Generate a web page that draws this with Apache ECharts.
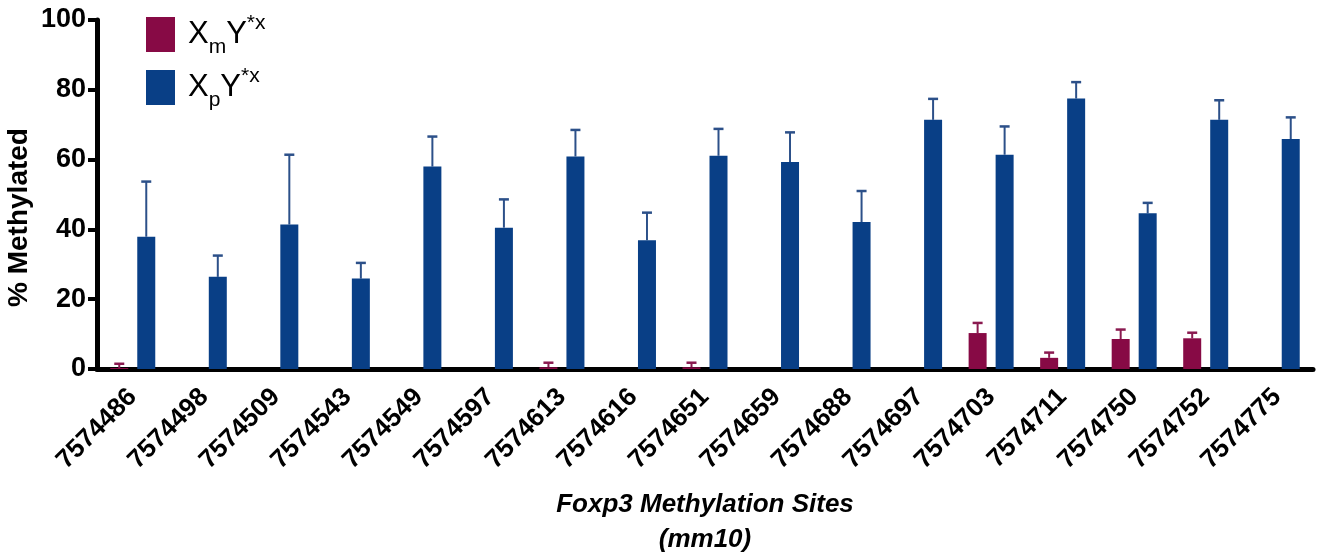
<!DOCTYPE html>
<html>
<head>
<meta charset="utf-8">
<script src="https://cdn.jsdelivr.net/npm/echarts@6/dist/echarts.min.js"></script>
<style>
html,body{margin:0;padding:0;background:#fff;}
#chart{width:1320px;height:556px;}
</style>
</head>
<body>
<div id="chart"></div>
<script>
const categories = ['7574486','7574498','7574509','7574543','7574549','7574597','7574613','7574616','7574651','7574659','7574688','7574697','7574703','7574711','7574750','7574752','7574775'];
const xmMean = [0.3, 0, 0, 0, 0, 0, 0.5, 0, 0.5, 0, 0, 0, 10.3, 3.2, 8.6, 8.8, 0];
const xmErr  = [1.2, 0, 0, 0, 0, 0, 1.3, 0, 1.3, 0, 0, 0, 2.9, 1.5, 2.7, 1.6, 0];
const xpMean = [37.9, 26.4, 41.4, 25.9, 58.0, 40.5, 60.9, 36.9, 61.1, 59.3, 42.1, 71.4, 61.4, 77.5, 44.6, 71.4, 65.9];
const xpErr  = [15.8, 6.1, 20.0, 4.5, 8.6, 8.1, 7.6, 7.9, 7.7, 8.5, 8.9, 6.0, 8.1, 4.7, 3.0, 5.6, 6.2];
const yTicks = [0, 20, 40, 60, 80, 100];

const MAG = '#870a45';
const BLUE = '#093f86';
const BAR_W = 18;

function errData(mean, err) {
  return mean.map((m, i) => [i, m, m + err[i]]);
}
function errRenderer(sign, color) {
  return function (params, api) {
    const v = api.value(1), e = api.value(2);
    if (!(e > v)) return null;
    const p0 = api.coord([api.value(0), v]);
    const p1 = api.coord([api.value(0), e]);
    const x = p0[0] + sign * (BAR_W * 0.75);
    return {
      type: 'group',
      children: [
        { type: 'line', shape: { x1: x, y1: p0[1], x2: x, y2: p1[1] }, style: { stroke: color, lineWidth: 2 } },
        { type: 'line', shape: { x1: x - 5, y1: p1[1], x2: x + 5, y2: p1[1] }, style: { stroke: color, lineWidth: 2.5 } }
      ]
    };
  };
}

const chart = echarts.init(document.getElementById('chart'), null, { renderer: 'canvas' });
const font = 'Liberation Sans, Arial, sans-serif';
chart.setOption({
  animation: false,
  backgroundColor: '#ffffff',
  textStyle: { fontFamily: font },
  grid: { left: 97, right: 7, top: 20, bottom: 187, containLabel: false, outerBoundsMode: 'none' },
  legend: {
    orient: 'vertical',
    left: 141, top: 8,
    itemWidth: 29, itemHeight: 35, itemGap: 8,
    icon: 'rect',
    data: ['XmY*x', 'XpY*x'],
    formatter: function (name) {
      const sub = name.charAt(1);
      return '{g|}{b|X}{s|' + sub + '}{b|Y}{p|*x}';
    },
    textStyle: {
      fontFamily: font,
      rich: {
        g: { width: 8, lineHeight: 35 },
        b: { fontSize: 31, color: '#000', fontFamily: font, lineHeight: 35, verticalAlign: 'middle' },
        s: { fontSize: 21, color: '#000', fontFamily: font, lineHeight: 35, verticalAlign: 'bottom', padding: [0, 0, -6, 0] },
        p: { fontSize: 21, color: '#000', fontFamily: font, lineHeight: 35, verticalAlign: 'top', padding: [-4, 0, 0, 0] }
      }
    }
  },
  xAxis: {
    type: 'category',
    data: categories,
    name: 'Foxp3 Methylation Sites\n(mm10)',
    nameLocation: 'middle',
    nameGap: 118,
    nameMoveOverlap: false,
    nameTextStyle: { fontFamily: font, fontSize: 26, fontWeight: 'bold', fontStyle: 'italic', color: '#000', lineHeight: 35 },
    axisLine: { lineStyle: { color: '#000', width: 5 } },
    axisTick: { alignWithLabel: true, length: 9, lineStyle: { color: '#000', width: 4 } },
    axisLabel: { rotate: 45, interval: 0, margin: 24, fontFamily: font, fontSize: 26, fontWeight: 'bold', color: '#000' },
    splitLine: { show: false }
  },
  yAxis: {
    type: 'value',
    min: 0, max: 100, interval: 20,
    name: '% Methylated',
    nameLocation: 'middle',
    nameGap: 64,
    nameMoveOverlap: false,
    nameRotate: 90,
    nameTextStyle: { fontFamily: font, fontSize: 28, fontWeight: 'bold', color: '#000', padding: [0, 46, 0, 0] },
    axisLine: { show: true, lineStyle: { color: '#000', width: 5 } },
    axisTick: { show: true, length: 9, lineStyle: { color: '#000', width: 4 } },
    axisLabel: {
      margin: 11, fontFamily: font, fontSize: 27, fontWeight: 'bold', color: '#000',
      formatter: function (v) { return yTicks.indexOf(v) >= 0 ? String(v) : ''; }
    },
    splitLine: { show: false }
  },
  series: [
    {
      name: 'XmY*x', type: 'bar', data: xmMean, barWidth: BAR_W, barGap: '50%',
      itemStyle: { color: MAG }, z: 3
    },
    {
      name: 'XpY*x', type: 'bar', data: xpMean, barWidth: BAR_W, barGap: '50%',
      itemStyle: { color: BLUE }, z: 3
    },
    {
      name: 'xmErr', type: 'custom', data: errData(xmMean, xmErr),
      renderItem: errRenderer(-1, '#8a1a50'), z: 2, silent: true,
      encode: { x: 0, y: [1, 2] }
    },
    {
      name: 'xpErr', type: 'custom', data: errData(xpMean, xpErr),
      renderItem: errRenderer(1, '#2c5089'), z: 2, silent: true,
      encode: { x: 0, y: [1, 2] }
    }
  ]
});
</script>
</body>
</html>
